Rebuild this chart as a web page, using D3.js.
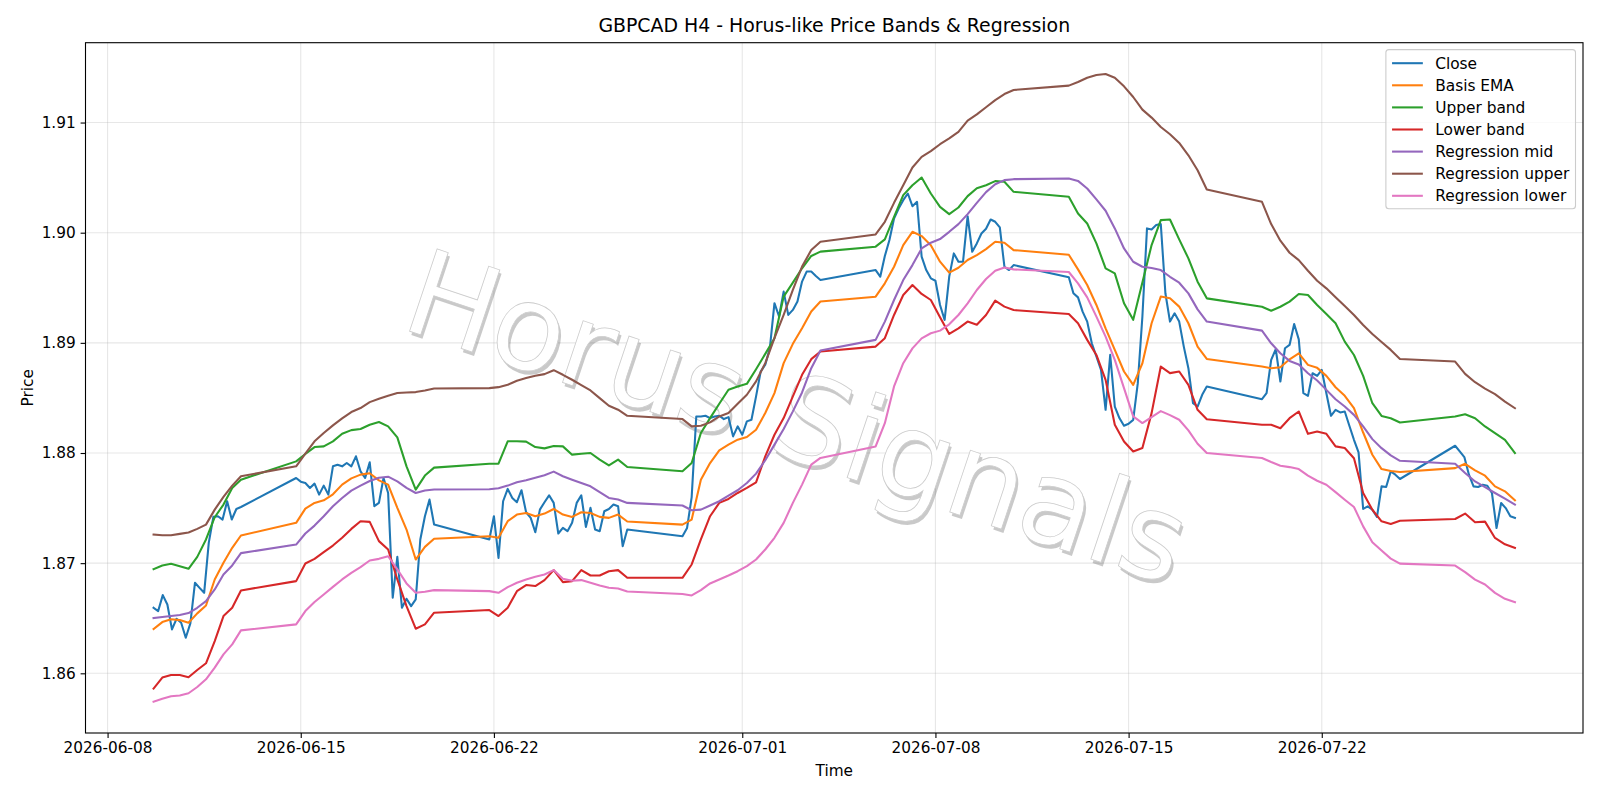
<!DOCTYPE html>
<html>
<head>
<meta charset="utf-8">
<script src="https://cdn.jsdelivr.net/npm/d3@7"></script>
<style>
  body { margin: 0; background: #fff; }
  svg { display: block; font-family: "DejaVu Sans", sans-serif; }
</style>
</head>
<body>
<div id="chart"></div>
<script>
// Trading sessions (4h bars, weekend gaps between them)
const sessions = [
    ["2026-06-09T16:00", "2026-06-12T20:00"],
    ["2026-06-14T20:00", "2026-06-19T20:00"],
    ["2026-06-21T20:00", "2026-06-26T20:00"],
    ["2026-06-28T20:00", "2026-07-03T20:00"],
    ["2026-07-05T20:00", "2026-07-10T20:00"],
    ["2026-07-12T20:00", "2026-07-17T20:00"],
    ["2026-07-19T20:00", "2026-07-24T20:00"],
    ["2026-07-26T20:00", "2026-07-29T00:00"]
];

// Close, one value per 4h bar in each session
const closeVals = [
    [1.86595, 1.86565, 1.8671, 1.86625, 1.86399, 1.86495, 1.86459, 1.86323, 1.86453, 1.86822, 1.86776, 1.86731, 1.87184, 1.8742, 1.87426, 1.87396, 1.87562, 1.87396, 1.87492, 1.8751],
    [1.87773, 1.8774, 1.87728, 1.87683, 1.87722, 1.87622, 1.87704, 1.87622, 1.87879, 1.87894, 1.87879, 1.87909, 1.87879, 1.8797, 1.87834, 1.87773, 1.87915, 1.87517, 1.87547, 1.87773, 1.87637, 1.86686, 1.87057, 1.86595, 1.86677, 1.8661, 1.86671, 1.87215, 1.87426, 1.87577, 1.8735],
    [1.87215, 1.87426, 1.87048, 1.87562, 1.87674, 1.87592, 1.87553, 1.87662, 1.87462, 1.87411, 1.87281, 1.87486, 1.87553, 1.87616, 1.87547, 1.87269, 1.8732, 1.8729, 1.87366, 1.87547, 1.87616, 1.87329, 1.87502, 1.87305, 1.8729, 1.87471, 1.87492, 1.87532, 1.87517, 1.87154, 1.87305],
    [1.87245, 1.8732, 1.876, 1.88332, 1.88332, 1.88338, 1.88317, 1.88332, 1.88338, 1.88308, 1.88326, 1.88151, 1.88242, 1.88166, 1.88287, 1.88302, 1.88514, 1.8874, 1.88801, 1.88952, 1.8936, 1.89239, 1.89465, 1.89254, 1.89299, 1.89375, 1.89556, 1.89647, 1.89647, 1.89607, 1.89571],
    [1.89661, 1.89601, 1.89788, 1.89933, 1.90129, 1.9022, 1.90295, 1.90356, 1.90241, 1.9028, 1.89782, 1.89661, 1.89586, 1.89564, 1.89344, 1.89208, 1.89601, 1.89812, 1.89737, 1.89737, 1.9015, 1.89827, 1.89903, 1.89993, 1.90036, 1.9012, 1.90099, 1.90048, 1.89691, 1.89661, 1.89706],
    [1.89595, 1.8945, 1.89413, 1.89283, 1.89193, 1.88996, 1.88876, 1.88755, 1.88392, 1.88891, 1.88422, 1.88317, 1.88247, 1.88265, 1.88301, 1.88634, 1.89239, 1.90039, 1.9003, 1.90069, 1.90078, 1.8945, 1.89193, 1.89268, 1.89193, 1.88966, 1.8877, 1.88453, 1.88422, 1.88528, 1.88603],
    [1.88489, 1.88543, 1.88845, 1.88942, 1.88649, 1.88951, 1.88981, 1.89171, 1.89032, 1.88543, 1.88519, 1.88724, 1.887, 1.88754, 1.88543, 1.88338, 1.88392, 1.88368, 1.88377, 1.88247, 1.8812, 1.88005, 1.87492, 1.87516, 1.87485, 1.87419, 1.87697, 1.87691, 1.87833, 1.87803, 1.87764],
    [1.88066, 1.88014, 1.87963, 1.87803, 1.87697, 1.87691, 1.87712, 1.87703, 1.87637, 1.87319, 1.87546, 1.875, 1.87425, 1.8741]
];

// Smooth series, sampled roughly every 8h across each session
const emaVals = [
    [1.86402, 1.86465, 1.8649, 1.86483, 1.86459, 1.86544, 1.86616, 1.86852, 1.87003, 1.87139, 1.87251],
    [1.87366, 1.87495, 1.87547, 1.87571, 1.87625, 1.87713, 1.8777, 1.87804, 1.87816, 1.87752, 1.87713, 1.87502, 1.87305, 1.87033, 1.87148, 1.87221],
    [1.87245, 1.8723, 1.87381, 1.87441, 1.87456, 1.87426, 1.8745, 1.87492, 1.87441, 1.8742, 1.87462, 1.87456, 1.8742, 1.87411, 1.87441, 1.87378],
    [1.8735, 1.87396, 1.87758, 1.87909, 1.88024, 1.88076, 1.88121, 1.88145, 1.88211, 1.88363, 1.88544, 1.88816, 1.88991, 1.89133, 1.89284, 1.89375],
    [1.89419, 1.8954, 1.89691, 1.89887, 1.90008, 1.89969, 1.89887, 1.89737, 1.89637, 1.89682, 1.89752, 1.89797, 1.89851, 1.89918, 1.89909, 1.89842],
    [1.898, 1.89667, 1.89525, 1.89344, 1.89132, 1.88936, 1.8874, 1.88619, 1.88815, 1.89178, 1.8942, 1.89404, 1.89329, 1.89178, 1.88966, 1.88854],
    [1.88785, 1.8877, 1.88779, 1.88851, 1.88905, 1.888, 1.88773, 1.887, 1.88597, 1.88519, 1.88407, 1.88186, 1.87984, 1.87854, 1.87836, 1.87827],
    [1.87863, 1.87902, 1.87842, 1.87794, 1.87697, 1.87652, 1.8757]
];

const upperVals = [
    [1.86946, 1.86979, 1.86994, 1.86973, 1.86949, 1.87057, 1.87215, 1.87417, 1.87532, 1.87683, 1.87758],
    [1.87924, 1.87991, 1.88054, 1.8806, 1.88106, 1.88175, 1.88208, 1.88218, 1.88257, 1.88281, 1.88242, 1.88142, 1.87879, 1.87668, 1.87795, 1.87867],
    [1.87903, 1.87903, 1.88106, 1.88106, 1.88103, 1.88054, 1.88042, 1.88063, 1.8806, 1.87985, 1.87994, 1.88, 1.8794, 1.87888, 1.8794, 1.87873],
    [1.87834, 1.87909, 1.88181, 1.88317, 1.88447, 1.88574, 1.88604, 1.88628, 1.88761, 1.889, 1.89042, 1.8942, 1.89547, 1.89677, 1.89789, 1.89828],
    [1.89873, 1.89939, 1.90144, 1.90341, 1.90431, 1.90501, 1.90356, 1.90235, 1.90169, 1.90229, 1.90332, 1.90404, 1.90431, 1.90468, 1.90462, 1.90371],
    [1.90326, 1.90175, 1.90084, 1.89903, 1.89676, 1.89631, 1.89359, 1.89209, 1.89547, 1.89888, 1.90114, 1.9012, 1.89939, 1.89767, 1.89555, 1.89404],
    [1.89328, 1.89292, 1.89328, 1.89374, 1.89443, 1.89434, 1.89343, 1.89262, 1.89178, 1.89011, 1.8889, 1.887, 1.88452, 1.88337, 1.88316, 1.88277],
    [1.88331, 1.88352, 1.88316, 1.88241, 1.8818, 1.8812, 1.88]
];

const lowerVals = [
    [1.85861, 1.85961, 1.85985, 1.85985, 1.85964, 1.8603, 1.86091, 1.86293, 1.8652, 1.86595, 1.86752],
    [1.86837, 1.86997, 1.87039, 1.871, 1.8716, 1.8723, 1.87311, 1.87381, 1.87375, 1.872, 1.87124, 1.86852, 1.8661, 1.86405, 1.86444, 1.8655],
    [1.86574, 1.8652, 1.86595, 1.86746, 1.86801, 1.86792, 1.86846, 1.86937, 1.86828, 1.86837, 1.86937, 1.86888, 1.86888, 1.86927, 1.86937, 1.86867],
    [1.86867, 1.86988, 1.87215, 1.87426, 1.87547, 1.87583, 1.87637, 1.87683, 1.87734, 1.8797, 1.88166, 1.88317, 1.88514, 1.8871, 1.88852, 1.88921],
    [1.88966, 1.89042, 1.89253, 1.89434, 1.89525, 1.89444, 1.89389, 1.89232, 1.89081, 1.89132, 1.89193, 1.89165, 1.89253, 1.89383, 1.89329, 1.89298],
    [1.89262, 1.89178, 1.89027, 1.8889, 1.88664, 1.88256, 1.88105, 1.88014, 1.88045, 1.88362, 1.88785, 1.88725, 1.8874, 1.88619, 1.88392, 1.88307],
    [1.88256, 1.88256, 1.88225, 1.88316, 1.88377, 1.88174, 1.88195, 1.88174, 1.8806, 1.88045, 1.87953, 1.87636, 1.87485, 1.8738, 1.87355, 1.87385],
    [1.87401, 1.8745, 1.87371, 1.87377, 1.87229, 1.87171, 1.87138]
];

const regMidVals = [
    [1.86502, 1.86511, 1.8652, 1.86529, 1.86547, 1.86595, 1.86656, 1.86761, 1.86897, 1.86979, 1.87091],
    [1.87169, 1.87269, 1.87341, 1.87426, 1.87517, 1.87592, 1.87659, 1.87704, 1.87746, 1.87776, 1.87785, 1.87743, 1.87683, 1.87637, 1.87659, 1.87668],
    [1.87671, 1.8768, 1.87704, 1.87734, 1.87752, 1.87776, 1.87798, 1.87831, 1.87789, 1.87758, 1.87728, 1.87698, 1.87644, 1.87592, 1.87577, 1.87547],
    [1.87523, 1.8748, 1.87486, 1.87523, 1.87562, 1.87613, 1.87662, 1.87728, 1.87813, 1.87934, 1.88076, 1.88218, 1.88378, 1.8855, 1.8877, 1.8893],
    [1.89027, 1.89193, 1.89389, 1.8957, 1.89706, 1.89857, 1.89909, 1.89942, 1.90008, 1.90078, 1.90169, 1.90271, 1.90368, 1.9044, 1.90477, 1.90486],
    [1.90492, 1.9047, 1.90401, 1.90302, 1.90199, 1.90039, 1.89857, 1.89736, 1.89691, 1.89679, 1.89661, 1.896, 1.89546, 1.89449, 1.89304, 1.89193],
    [1.89111, 1.88996, 1.88905, 1.88836, 1.88803, 1.88724, 1.88658, 1.88573, 1.88488, 1.88422, 1.88346, 1.88241, 1.88126, 1.88044, 1.87978, 1.87929],
    [1.87902, 1.87818, 1.87742, 1.87691, 1.87637, 1.87585, 1.87531]
];

const regUpperVals = [
    [1.8726, 1.87254, 1.87254, 1.87266, 1.87278, 1.87311, 1.8735, 1.87486, 1.87601, 1.87704, 1.87789],
    [1.87879, 1.87994, 1.88106, 1.88181, 1.88251, 1.88314, 1.88372, 1.88408, 1.88462, 1.88492, 1.8852, 1.88544, 1.8855, 1.88553, 1.88568, 1.88586],
    [1.88589, 1.88598, 1.88619, 1.88656, 1.8868, 1.88701, 1.88716, 1.88752, 1.8871, 1.88665, 1.88616, 1.88568, 1.88498, 1.88429, 1.88393, 1.88338],
    [1.88308, 1.88242, 1.88248, 1.88278, 1.88332, 1.88363, 1.88447, 1.88529, 1.8865, 1.88816, 1.89042, 1.89254, 1.8948, 1.89692, 1.89843, 1.89918],
    [1.89984, 1.90099, 1.90271, 1.90431, 1.90592, 1.90688, 1.9074, 1.90803, 1.90857, 1.90915, 1.91018, 1.91074, 1.91139, 1.91203, 1.91259, 1.91296],
    [1.91335, 1.91368, 1.91407, 1.91431, 1.9144, 1.91407, 1.91329, 1.91232, 1.91117, 1.91045, 1.9096, 1.90894, 1.90815, 1.90703, 1.90567, 1.90392],
    [1.9028, 1.90078, 1.89927, 1.89818, 1.89751, 1.89655, 1.89564, 1.89495, 1.89413, 1.89334, 1.89253, 1.89162, 1.89081, 1.89008, 1.88936, 1.88854],
    [1.8883, 1.88718, 1.88643, 1.88585, 1.88534, 1.88467, 1.88407]
];

const regLowerVals = [
    [1.85743, 1.8577, 1.85792, 1.85798, 1.85819, 1.85876, 1.85946, 1.86051, 1.86172, 1.86263, 1.8639],
    [1.86444, 1.86565, 1.86647, 1.86716, 1.86785, 1.86852, 1.86912, 1.86964, 1.87024, 1.87039, 1.87063, 1.86943, 1.86816, 1.86731, 1.8674, 1.86755],
    [1.86746, 1.86731, 1.86782, 1.86822, 1.86852, 1.86876, 1.86897, 1.86937, 1.86858, 1.8684, 1.86846, 1.86822, 1.86798, 1.86776, 1.8677, 1.86743],
    [1.8672, 1.86707, 1.86755, 1.86816, 1.86852, 1.86888, 1.86927, 1.86973, 1.87033, 1.87124, 1.8723, 1.87366, 1.87547, 1.87713, 1.87894, 1.87955],
    [1.8806, 1.88271, 1.88604, 1.88815, 1.8895, 1.89041, 1.89087, 1.89111, 1.89168, 1.89253, 1.89359, 1.8948, 1.8958, 1.89655, 1.89685, 1.89667],
    [1.89643, 1.8954, 1.89413, 1.89238, 1.89057, 1.88845, 1.88589, 1.88332, 1.88272, 1.88326, 1.8838, 1.88344, 1.88302, 1.88205, 1.88084, 1.88],
    [1.87954, 1.87918, 1.87885, 1.87872, 1.87854, 1.87794, 1.87748, 1.87712, 1.87645, 1.87576, 1.8751, 1.87334, 1.8719, 1.87114, 1.87041, 1.86996],
    [1.86978, 1.86918, 1.86851, 1.86806, 1.8673, 1.86676, 1.86646]
];

const seriesNames = ["Close", "Basis EMA", "Upper band", "Lower band", "Regression mid", "Regression upper", "Regression lower"];
const seriesColors = ["#1f77b4", "#ff7f0e", "#2ca02c", "#d62728", "#9467bd", "#8c564b", "#e377c2"];
const xTickDates = ["2026-06-08", "2026-06-15", "2026-06-22", "2026-07-01", "2026-07-08", "2026-07-15", "2026-07-22"];
const yTickValues = [1.86, 1.87, 1.88, 1.89, 1.90, 1.91];

var parseTime = d3.timeParse("%Y-%m-%dT%H:%M");
var parseDay = d3.timeParse("%Y-%m-%d");

// spread each session's values evenly between its first and last bar
function toPoints(bySession) {
    var pts = [];
    bySession.forEach(function(vals, s) {
        var t0 = parseTime(sessions[s][0]), t1 = parseTime(sessions[s][1]);
        var step = (t1 - t0) / (vals.length - 1);
        vals.forEach(function(v, i) { pts.push({ t: new Date(+t0 + i * step), v: v }); });
    });
    return pts;
}

var allSeries = [closeVals, emaVals, upperVals, lowerVals, regMidVals, regUpperVals, regLowerVals].map(toPoints);

var W = 1600, H = 800;
var box = { left: 85.5, right: 1583, top: 42.7, bottom: 733 };
var fs = 15.3;   // tick / legend / label size

var svg = d3.select("#chart").append("svg").attr("width", W).attr("height", H);
svg.append("rect").attr("width", W).attr("height", H).attr("fill", "#fff");

// matplotlib style 5% margins
var flat = allSeries.flat();
var tExt = d3.extent(flat, d => d.t), vExt = d3.extent(flat, d => d.v);
var tPad = (tExt[1] - tExt[0]) * 0.05, vPad = (vExt[1] - vExt[0]) * 0.05;

var x = d3.scaleTime().domain([new Date(+tExt[0] - tPad), new Date(+tExt[1] + tPad)]).range([box.left, box.right]);
var y = d3.scaleLinear().domain([vExt[0] - vPad, vExt[1] + vPad]).range([box.bottom, box.top]);

// grid
var grid = svg.append("g").attr("stroke", "#b0b0b0").attr("stroke-opacity", 0.3).attr("stroke-width", 1.1);
grid.selectAll(".gx").data(xTickDates.map(parseDay)).enter().append("line")
    .attr("x1", d => x(d)).attr("x2", d => x(d)).attr("y1", box.top).attr("y2", box.bottom);
grid.selectAll(".gy").data(yTickValues).enter().append("line")
    .attr("x1", box.left).attr("x2", box.right).attr("y1", d => y(d)).attr("y2", d => y(d));

// watermark
var wm = svg.append("g").attr("transform", "translate(798,416) rotate(18.5)")
    .style("font-size", "119px").attr("text-anchor", "middle");
wm.append("text").attr("x", 3).attr("y", 3).attr("dy", "0.36em")
    .attr("fill", "#4d4d4d").attr("fill-opacity", 0.3).text("Horus Signals");
wm.append("text").attr("dy", "0.36em")
    .attr("fill", "#fff").attr("stroke", "#cccccc").attr("stroke-width", 0.8).text("Horus Signals");

// lines
svg.append("clipPath").attr("id", "clip").append("rect")
    .attr("x", box.left).attr("y", box.top).attr("width", box.right - box.left).attr("height", box.bottom - box.top);

var line = d3.line().x(d => x(d.t)).y(d => y(d.v));
svg.append("g").attr("clip-path", "url(#clip)")
    .selectAll("path").data(allSeries).enter().append("path")
    .attr("d", line)
    .attr("fill", "none")
    .attr("stroke", (d, i) => seriesColors[i])
    .attr("stroke-width", 2.08)
    .attr("stroke-linejoin", "round")
    .attr("stroke-linecap", "square");

// axes
var xAxis = svg.append("g").attr("transform", "translate(0," + box.bottom + ")")
    .call(d3.axisBottom(x).tickValues(xTickDates.map(parseDay)).tickFormat(d3.timeFormat("%Y-%m-%d")).tickSize(4.9).tickPadding(4.6));
var yAxis = svg.append("g").attr("transform", "translate(" + box.left + ",0)")
    .call(d3.axisLeft(y).tickValues(yTickValues).tickFormat(d3.format(".2f")).tickSize(4.9).tickPadding(4.9));
[xAxis, yAxis].forEach(function(a) {
    a.select(".domain").remove();
    a.selectAll("line").attr("stroke", "#000").attr("stroke-width", 1.1);
    a.selectAll("text").attr("fill", "#000").style("font-size", fs + "px").style("font-family", "DejaVu Sans, sans-serif");
});

svg.append("rect")
    .attr("x", box.left).attr("y", box.top).attr("width", box.right - box.left).attr("height", box.bottom - box.top)
    .attr("fill", "none").attr("stroke", "#000").attr("stroke-width", 1.1);

// titles
svg.append("text").attr("x", (box.left + box.right) / 2).attr("y", 32)
    .attr("text-anchor", "middle").style("font-size", "18.9px").text("GBPCAD H4 - Horus-like Price Bands & Regression");
svg.append("text").attr("x", (box.left + box.right) / 2).attr("y", 776)
    .attr("text-anchor", "middle").style("font-size", fs + "px").text("Time");
svg.append("text").attr("transform", "translate(33," + (box.top + box.bottom) / 2 + ") rotate(-90)")
    .attr("text-anchor", "middle").style("font-size", fs + "px").text("Price");

// legend
var lfs = 15.4;
var legend = svg.append("g");
var lgBox = legend.append("rect").attr("rx", 3).attr("fill", "#fff").attr("fill-opacity", 0.8)
    .attr("stroke", "#cccccc").attr("stroke-width", 1.1);
var rows = legend.selectAll("g.row").data(seriesNames).enter().append("g").attr("class", "row");
rows.append("line").attr("x1", 0).attr("x2", 2 * lfs).attr("y1", 0).attr("y2", 0)
    .attr("stroke", (d, i) => seriesColors[i]).attr("stroke-width", 2.08);
rows.append("text").attr("x", 2.8 * lfs).attr("dy", "0.35em").style("font-size", lfs + "px").text(d => d);
var maxW = d3.max(rows.selectAll("text").nodes(), n => n.getComputedTextLength());
var pad = 0.4 * lfs;
var lgW = pad + 2.8 * lfs + maxW + pad;
var lgH = 22.1 * seriesNames.length + 4.4;
var lgX = box.right - 7.5 - lgW, lgY = box.top + 6.9;
lgBox.attr("x", lgX).attr("y", lgY).attr("width", lgW).attr("height", lgH);
rows.attr("transform", (d, i) => "translate(" + (lgX + pad) + "," + (lgY + 13.6 + i * 22.1) + ")");
</script>
</body>
</html>
